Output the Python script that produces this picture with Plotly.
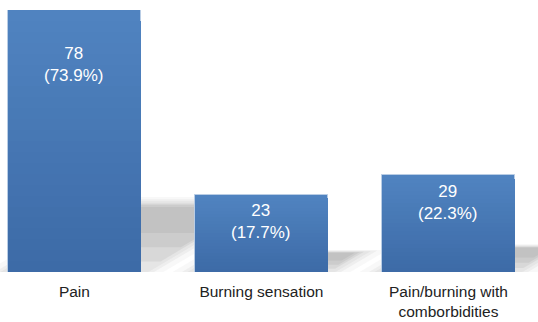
import plotly.graph_objects as go

categories = ["Pain", "Burning sensation", "Pain/burning with<br>comborbidities"]
counts = [78, 23, 29]
percents = [73.9, 17.7, 22.3]

# style
label_shift_px = [-54, -27, -28]
bar_width = 0.711
top_color = (80, 131, 192)
bot_color = (60, 106, 166)
n_bands = 24

x = list(range(len(categories)))
fig = go.Figure()

# shadows (perspective, up-right) built from bar values
shadow_frac = 0.27
px_per_unit_y = 262 / 78.0
px_per_unit_x = 187.0
skew_ratio = 1.69
shapes = []
for xi, v in zip(x, counts):
    H = shadow_frac * v
    S = skew_ratio * H * px_per_unit_y / px_per_unit_x
    xl, xr = xi - bar_width / 2, xi + bar_width / 2
    layers = [(0.0, 1.06, 0.05, 0.12), (0.0, 1.03, 0.07, 0.07), (0.0, 1.0, 0.07, 0.04),
              (0.15, 0.97, 0.10, 0.01), (0.35, 0.95, 0.11, -0.01), (0.55, 0.92, 0.10, -0.03)]
    for f0, f1, op, grow in layers:
        y0, y1 = f0 * H, f1 * H
        g = grow
        path = (f"M {xl + S*f0 - g},{y0} L {xr + S*f0 + g},{y0} "
                f"L {xr + S*f1 + g},{y1} L {xl + S*f1 - g},{y1} Z")
        shapes.append(dict(type="path", path=path, xref="x", yref="y",
                           fillcolor="rgb(110,110,110)", opacity=op,
                           line=dict(width=0), layer="below"))

# gradient bars via overlaid bands
for k in range(n_bands):
    t = k / n_bands
    c = tuple(int(round(top_color[i] + (bot_color[i] - top_color[i]) * t)) for i in range(3))
    ys = [v * (1 - t) for v in counts]
    fig.add_trace(go.Bar(
        x=x, y=ys, width=bar_width,
        marker=dict(color=f"rgb{c}",
                    line=dict(color="#B9CDE5" if k == 0 else f"rgb{c}", width=1 if k == 0 else 0)),
        hoverinfo="skip", showlegend=False))

annotations = []
for xi, v, p, sh in zip(x, counts, percents, label_shift_px):
    annotations.append(dict(x=xi, y=v, xref="x", yref="y", yshift=sh,
                            text=f"{v}<br>({p}%)", showarrow=False,
                            yanchor="middle", xanchor="center",
                            font=dict(color="white", size=17, family="Liberation Sans, Arial")))

fig.update_layout(
    width=538, height=322,
    margin=dict(l=0, r=0, t=10, b=50),
    paper_bgcolor="white", plot_bgcolor="white",
    barmode="overlay", bargap=0,
    shapes=shapes, annotations=annotations,
    font=dict(family="Liberation Sans, Arial", size=15.5, color="#222222"),
    xaxis=dict(range=[-0.398, 2.479], tickvals=x, ticktext=categories,
               showgrid=False, zeroline=False, showline=False, ticks="",
               ticklabelstandoff=8, tickfont=dict(size=15.5)),
    yaxis=dict(range=[0, 78], visible=False, showgrid=False, zeroline=False),
)

fig.write_html("out.html")
